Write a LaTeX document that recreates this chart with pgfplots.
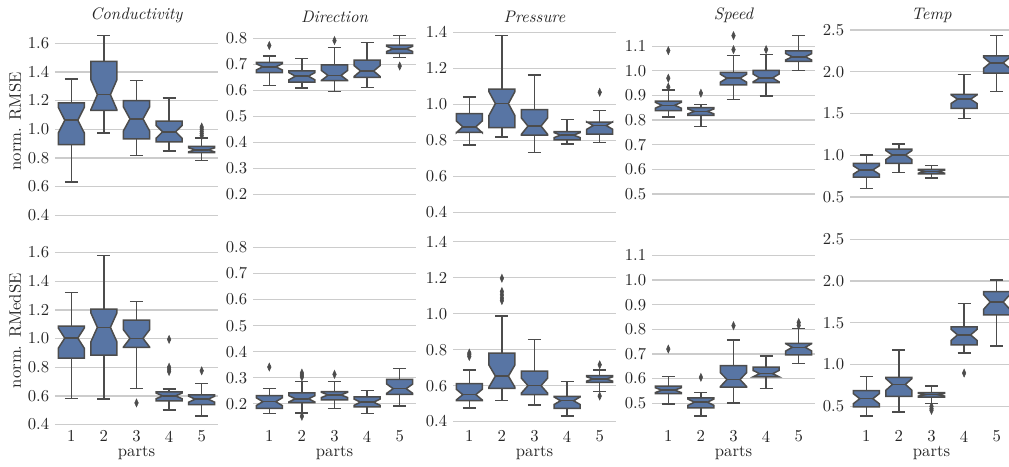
\documentclass[border=0pt]{standalone}
\usepackage{pgfplots}
\pgfplotsset{compat=1.18}

\definecolor{boxblue}{HTML}{5875A4}
\definecolor{edgegray}{HTML}{4C4C4C}
\definecolor{gridgray}{HTML}{CCCCCC}
\definecolor{textgray}{HTML}{262626}

% Notched box: position, lower whisker, Q1, median, Q3, upper whisker, notch half-height
\newcommand{\nbox}[7]{%
  \pgfmathsetmacro{\nbL}{#1-0.4}\pgfmathsetmacro{\nbR}{#1+0.4}%
  \pgfmathsetmacro{\nbNL}{#1-0.2}\pgfmathsetmacro{\nbNR}{#1+0.2}%
  \pgfmathsetmacro{\nbLo}{#4-#7}\pgfmathsetmacro{\nbHi}{#4+#7}%
  \edef\nbplots{%
    \noexpand\addplot[whisk] coordinates {(#1,#2) (#1,#3)};
    \noexpand\addplot[whisk] coordinates {(#1,#5) (#1,#6)};
    \noexpand\addplot[whisk] coordinates {(\nbNL,#2) (\nbNR,#2)};
    \noexpand\addplot[whisk] coordinates {(\nbNL,#6) (\nbNR,#6)};
    \noexpand\addplot[notchbox] coordinates {(\nbL,#3) (\nbR,#3) (\nbR,\nbLo) (\nbNR,#4) (\nbR,\nbHi) (\nbR,#5) (\nbL,#5) (\nbL,\nbHi) (\nbNL,#4) (\nbL,\nbLo)} -- cycle;
    \noexpand\addplot[whisk] coordinates {(\nbNL,#4) (\nbNR,#4)};
  }\nbplots
}
\newcommand{\fliers}[1]{\addplot[flier] coordinates {#1};}

\pgfplotsset{
  whisk/.style={draw=edgegray, line width=0.9pt},
  notchbox/.style={draw=edgegray, fill=boxblue, line width=0.9pt, line join=miter},
  flier/.style={only marks, mark=diamond*, mark size=2.4pt,
    mark options={fill=edgegray, draw=edgegray, xscale=0.6, line width=0.3pt}},
  panel/.style={
    scale only axis, width=97.8pt, height=113.1pt,
    anchor=north west,
    xmin=-0.5, xmax=4.5,
    xtick={0,1,2,3,4}, xticklabels={1,2,3,4,5},
    axis line style={draw=none},
    major tick length=0pt,
    ymajorgrids, grid style={draw=gridgray, line width=0.8pt},
    tick label style={text=textgray},
    yticklabel style={/pgf/number format/fixed, /pgf/number format/fixed zerofill,
      /pgf/number format/precision=1},
    title style={at={(0.5,1)}, anchor=south, font=\itshape, text=textgray, yshift=-7pt},
    label style={text=textgray},
    ylabel style={at={(axis description cs:-0.245,0.5)}, anchor=center},
  },
  toprow/.style={panel, xticklabels={}},
  botrow/.style={panel, xlabel={parts},
    xlabel style={at={(axis description cs:0.5,0)}, anchor=center, yshift=-17pt}},
  colA/.style={ymin=0.398, ymax=1.713, ytick={0.4,0.6,0.8,1.0,1.2,1.4,1.6}},
  colB/.style={ymin=0.119, ymax=0.843, ytick={0.2,0.3,0.4,0.5,0.6,0.7,0.8}},
  colC/.style={ymin=0.382, ymax=1.430, ytick={0.4,0.6,0.8,1.0,1.2,1.4}},
  colD/.style={ymin=0.412, ymax=1.178, ytick={0.5,0.6,0.7,0.8,0.9,1.0,1.1}},
  colE/.style={ymin=0.278, ymax=2.535, ytick={0.5,1.0,1.5,2.0,2.5}},
}

\begin{document}
\begin{tikzpicture}
\useasboundingbox (0,0) rectangle (605.4pt,-279.6pt);

% ---------------- RMSE ----------------
\begin{axis}[toprow, colA, at={(33pt,-16.2pt)}, title={Conductivity}, ylabel={norm. RMSE}]
\nbox{0}{0.632}{0.893}{1.063}{1.183}{1.352}{0.090}
\nbox{1}{0.975}{1.132}{1.241}{1.473}{1.653}{0.105}
\nbox{2}{0.817}{0.933}{1.072}{1.199}{1.341}{0.083}
\nbox{3}{0.847}{0.912}{0.982}{1.056}{1.218}{0.045}
\nbox{4}{0.782}{0.836}{0.856}{0.880}{0.940}{0.014}
\fliers{(4,0.955) (4,0.970) (4,0.985) (4,1.000) (4,1.015)}
\end{axis}

\begin{axis}[toprow, colB, at={(151.8pt,-16.2pt)}, title={Direction}]
\nbox{0}{0.619}{0.668}{0.690}{0.707}{0.732}{0.012}
\nbox{1}{0.608}{0.631}{0.654}{0.675}{0.723}{0.014}
\nbox{2}{0.596}{0.637}{0.657}{0.698}{0.765}{0.019}
\nbox{3}{0.610}{0.650}{0.674}{0.716}{0.783}{0.021}
\nbox{4}{0.726}{0.742}{0.759}{0.773}{0.810}{0.010}
\fliers{(0,0.772) (2,0.791) (4,0.693)}
\end{axis}

\begin{axis}[toprow, colC, at={(271.8pt,-16.2pt)}, title={Pressure}]
\nbox{0}{0.773}{0.844}{0.875}{0.949}{1.040}{0.033}
\nbox{1}{0.818}{0.871}{1.004}{1.084}{1.382}{0.067}
\nbox{2}{0.731}{0.829}{0.879}{0.971}{1.163}{0.045}
\nbox{3}{0.779}{0.803}{0.829}{0.849}{0.916}{0.014}
\nbox{4}{0.788}{0.834}{0.882}{0.901}{0.967}{0.021}
\fliers{(4,1.067)}
\end{axis}

\begin{axis}[toprow, colD, at={(391.2pt,-16.2pt)}, title={Speed}]
\nbox{0}{0.812}{0.838}{0.860}{0.877}{0.922}{0.012}
\nbox{1}{0.773}{0.819}{0.835}{0.850}{0.863}{0.010}
\nbox{2}{0.883}{0.943}{0.970}{0.994}{1.063}{0.016}
\nbox{3}{0.898}{0.952}{0.971}{1.002}{1.067}{0.016}
\nbox{4}{1.001}{1.038}{1.057}{1.081}{1.143}{0.013}
\fliers{(0,0.934) (0,0.970) (0,1.082) (1,0.909) (2,1.086) (2,1.143) (3,1.086)}
\end{axis}

\begin{axis}[toprow, colE, at={(510pt,-16.2pt)}, title={Temp}]
\nbox{0}{0.600}{0.739}{0.823}{0.902}{1.002}{0.051}
\nbox{1}{0.795}{0.902}{1.002}{1.074}{1.133}{0.054}
\nbox{2}{0.727}{0.775}{0.803}{0.831}{0.875}{0.018}
\nbox{3}{1.440}{1.560}{1.671}{1.727}{1.966}{0.052}
\nbox{4}{1.763}{1.982}{2.106}{2.189}{2.432}{0.065}
\end{axis}

% ---------------- RMedSE ----------------
\begin{axis}[botrow, colA, at={(33pt,-141.8pt)}, ylabel={norm. RMedSE}]
\nbox{0}{0.581}{0.863}{1.003}{1.087}{1.320}{0.071}
\nbox{1}{0.577}{0.884}{1.078}{1.206}{1.581}{0.101}
\nbox{2}{0.651}{0.938}{1.001}{1.129}{1.260}{0.060}
\nbox{3}{0.500}{0.565}{0.600}{0.628}{0.647}{0.020}
\nbox{4}{0.458}{0.539}{0.577}{0.607}{0.686}{0.021}
\fliers{(2,0.551) (3,0.770) (3,0.785) (3,0.800) (3,0.994) (4,0.775)}
\end{axis}

\begin{axis}[botrow, colB, at={(151.8pt,-141.8pt)}]
\nbox{0}{0.163}{0.182}{0.208}{0.231}{0.258}{0.015}
\nbox{1}{0.165}{0.204}{0.219}{0.242}{0.285}{0.012}
\nbox{2}{0.182}{0.215}{0.234}{0.247}{0.285}{0.010}
\nbox{3}{0.163}{0.188}{0.206}{0.226}{0.251}{0.012}
\nbox{4}{0.191}{0.236}{0.258}{0.294}{0.336}{0.018}
\fliers{(0,0.341) (1,0.152) (1,0.303) (1,0.310) (1,0.318) (2,0.313)}
\end{axis}

\begin{axis}[botrow, colC, at={(271.8pt,-141.8pt)}]
\nbox{0}{0.476}{0.516}{0.550}{0.611}{0.688}{0.030}
\nbox{1}{0.516}{0.585}{0.653}{0.781}{0.988}{0.062}
\nbox{2}{0.491}{0.550}{0.600}{0.681}{0.857}{0.041}
\nbox{3}{0.430}{0.474}{0.516}{0.540}{0.622}{0.021}
\nbox{4}{0.568}{0.618}{0.637}{0.655}{0.687}{0.012}
\fliers{(0,0.762) (0,0.772) (0,0.781) (1,1.073) (1,1.087) (1,1.105) (1,1.123) (1,1.197) (4,0.542) (4,0.716)}
\end{axis}

\begin{axis}[botrow, colD, at={(391.2pt,-141.8pt)}]
\nbox{0}{0.497}{0.539}{0.553}{0.569}{0.609}{0.010}
\nbox{1}{0.447}{0.481}{0.504}{0.522}{0.543}{0.013}
\nbox{2}{0.501}{0.565}{0.596}{0.653}{0.757}{0.028}
\nbox{3}{0.559}{0.607}{0.620}{0.647}{0.692}{0.013}
\nbox{4}{0.661}{0.696}{0.727}{0.743}{0.803}{0.015}
\fliers{(0,0.720) (1,0.605) (2,0.815) (4,0.816) (4,0.828)}
\end{axis}

\begin{axis}[botrow, colE, at={(510pt,-141.8pt)}]
\nbox{0}{0.381}{0.492}{0.591}{0.687}{0.858}{0.061}
\nbox{1}{0.432}{0.619}{0.762}{0.846}{1.176}{0.070}
\nbox{2}{0.532}{0.611}{0.639}{0.663}{0.743}{0.016}
\nbox{3}{1.140}{1.236}{1.355}{1.450}{1.729}{0.067}
\nbox{4}{1.224}{1.594}{1.749}{1.872}{2.015}{0.087}
\fliers{(2,0.452) (2,0.472) (2,0.500) (3,0.898)}
\end{axis}
\end{tikzpicture}
\end{document}
